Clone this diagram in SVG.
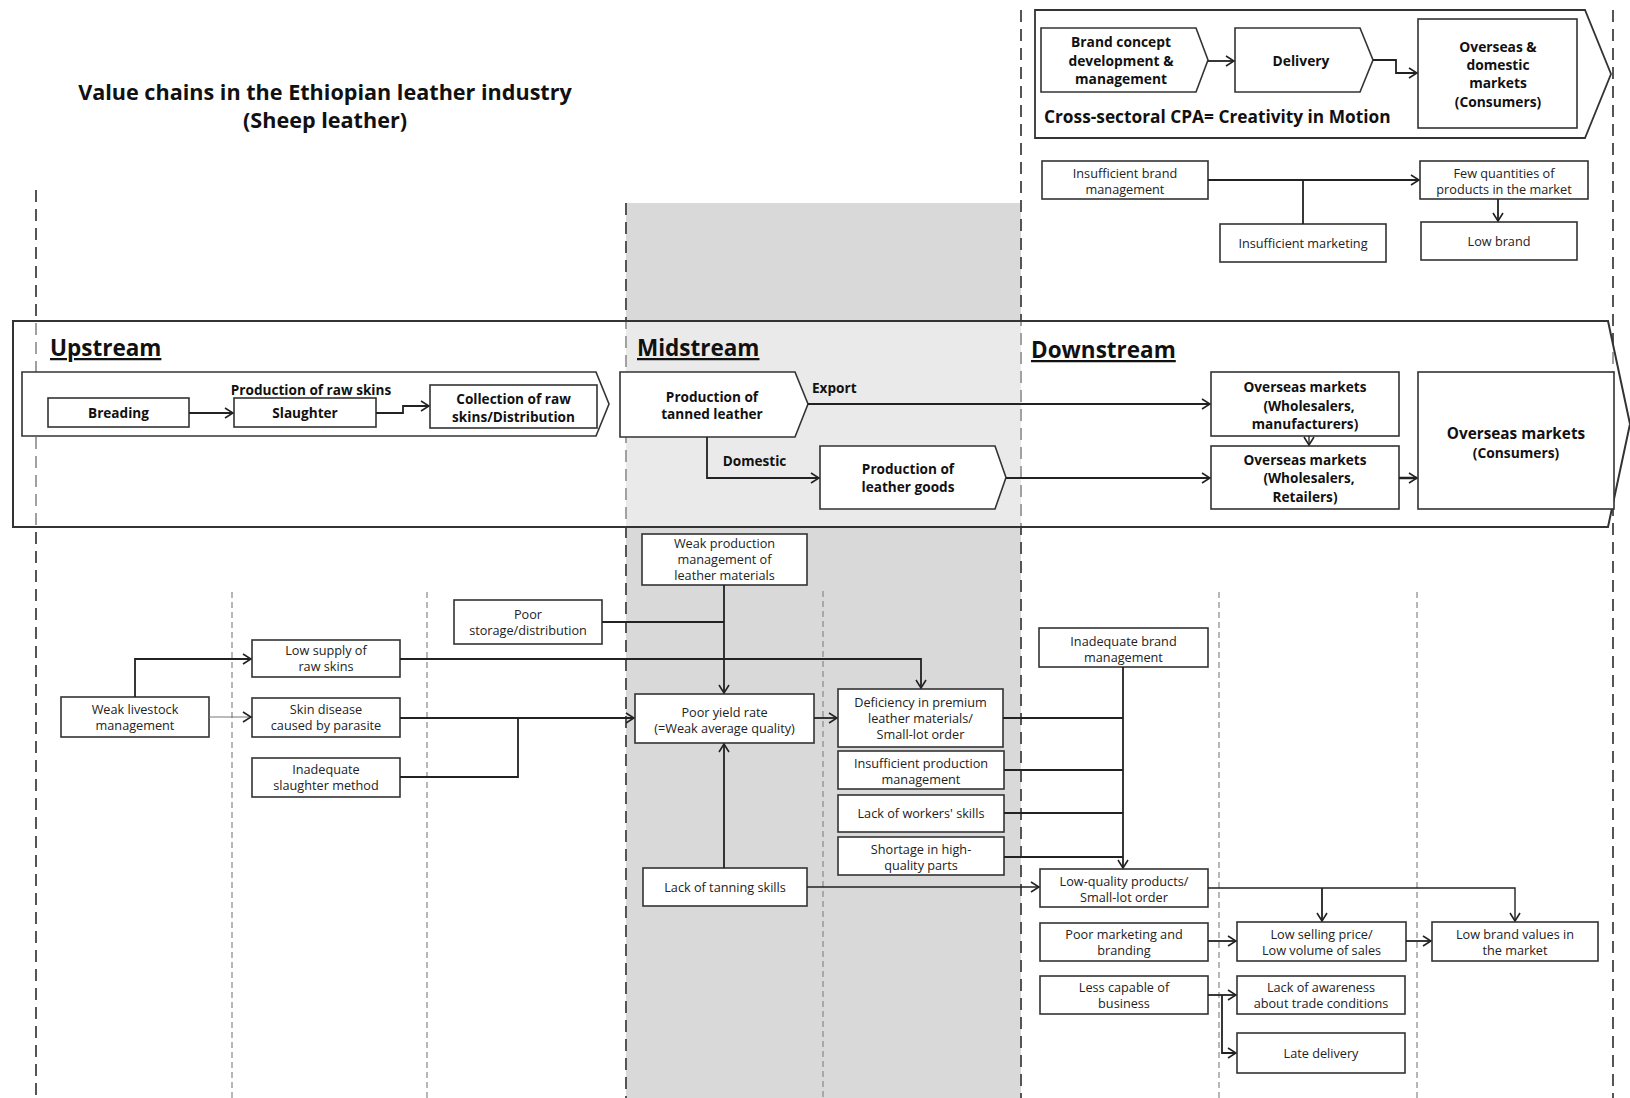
<svg xmlns="http://www.w3.org/2000/svg" width="1630" height="1098" viewBox="0 0 1630 1098">
<defs>
<style>
.bx{fill:#fff;stroke:#333;stroke-width:1.6}
.t{font-family:"Open Sans","Liberation Sans",sans-serif;font-size:12.7px;fill:#222;text-anchor:middle}
.tb{font-family:"Open Sans","Liberation Sans",sans-serif;font-size:13.6px;font-weight:bold;fill:#111;text-anchor:middle}
.sec{font-family:"Open Sans","Liberation Sans",sans-serif;font-size:22.5px;font-weight:bold;fill:#111;text-decoration:underline}
.c{fill:none;stroke:#222;stroke-width:1.8}
.dk{stroke:#555;stroke-width:2;stroke-dasharray:12 7;fill:none}
.dt{stroke:#888;stroke-width:1.2;stroke-dasharray:6 4;fill:none}
</style>
<marker id="a" viewBox="0 0 10 12" markerWidth="10" markerHeight="12" refX="9" refY="6" orient="auto" markerUnits="userSpaceOnUse">
<path d="M1,1 L9,6 L1,11" fill="none" stroke="#222" stroke-width="1.6"/>
</marker>
</defs>
<rect width="1630" height="1098" fill="#fff"/>
<rect x="626" y="203" width="395" height="895" fill="#d9d9d9"/>
<g id="gridlines">
<line class="dk" x1="36" y1="190" x2="36" y2="1098"/>
<line class="dk" x1="626" y1="203" x2="626" y2="1098"/>
<line class="dk" x1="1021" y1="10" x2="1021" y2="1098"/>
<line class="dk" x1="1613" y1="10" x2="1613" y2="1098"/>
<line class="dt" x1="232" y1="592" x2="232" y2="1098"/>
<line class="dt" x1="427" y1="592" x2="427" y2="1098"/>
<line class="dt" x1="823" y1="591" x2="823" y2="1098"/>
<line class="dt" x1="1219" y1="592" x2="1219" y2="1098"/>
<line class="dt" x1="1417" y1="592" x2="1417" y2="1098"/>
</g>
<g id="title">
<text class="tb" x="325" y="100" style="font-size:21.6px">Value chains in the Ethiopian leather industry</text>
<text class="tb" x="325" y="128" style="font-size:21.6px">(Sheep leather)</text>
</g>
<g id="band">
<polygon points="13,321 1608,321 1630,424 1608,527 13,527" fill="#fff" fill-opacity="0.45" stroke="#333" stroke-width="2"/>
<text class="sec" x="50" y="356">Upstream</text>
<text class="sec" x="637" y="356">Midstream</text>
<text class="sec" x="1031" y="358">Downstream</text>
</g>
<g id="upstream-chain">
<polygon class="bx" points="22,372 596,372 609,404 596,436 22,436"/>
</g>
<g id="breading"><rect class="bx" x="48" y="398" width="141" height="29"/><text class="tb" x="118.5" y="418">Breading</text></g>
<g id="slaughter"><text class="tb" x="311" y="395">Production of raw skins</text><rect class="bx" x="234" y="398" width="142" height="29"/><text class="tb" x="305" y="418">Slaughter</text></g>
<g id="collection"><rect class="bx" x="430" y="385" width="167" height="43"/><text class="tb" x="513.5" y="404">Collection of raw</text><text class="tb" x="513.5" y="422">skins/Distribution</text></g>
<g id="tanned"><polygon class="bx" points="620,372 795,372 808,404 795,437 620,437"/><text class="tb" x="712" y="402">Production of</text><text class="tb" x="712" y="419">tanned leather</text></g>
<g id="leathergoods"><polygon class="bx" points="820,446 995,446 1006,477.5 995,509 820,509"/><text class="tb" x="908" y="474">Production of</text><text class="tb" x="908" y="492">leather goods</text></g>
<g id="os1"><rect class="bx" x="1211" y="372" width="188" height="64"/><text class="tb" x="1305" y="392">Overseas markets</text><text class="tb" x="1309" y="411">(Wholesalers,</text><text class="tb" x="1305" y="429">manufacturers)</text></g>
<g id="os2"><rect class="bx" x="1211" y="446" width="188" height="63"/><text class="tb" x="1305" y="465">Overseas markets</text><text class="tb" x="1309" y="483">(Wholesalers,</text><text class="tb" x="1305" y="502">Retailers)</text></g>
<g id="os3"><rect class="bx" x="1418" y="372" width="196" height="137"/><text class="tb" x="1516" y="439" style="font-size:15.3px">Overseas markets</text><text class="tb" x="1516" y="458" style="font-size:13.8px">(Consumers)</text></g>
<g id="labels"><text class="tb" x="812" y="393" style="text-anchor:start">Export</text><text class="tb" x="754.5" y="466">Domestic</text></g>
<g id="cpa">
<polygon points="1035,10 1585,10 1611,74 1585,138 1035,138" fill="#fff" stroke="#333" stroke-width="1.8"/>
<text class="tb" x="1044" y="123" style="font-size:17.3px;text-anchor:start">Cross-sectoral CPA= Creativity in Motion</text>
</g>
<g id="brandconcept"><polygon class="bx" points="1041,28 1196,28 1208,60 1196,92 1041,92"/><text class="tb" x="1121" y="47" style="font-size:13.8px">Brand concept</text><text class="tb" x="1121" y="66" style="font-size:13.8px">development &amp;</text><text class="tb" x="1121" y="84" style="font-size:13.8px">management</text></g>
<g id="delivery"><polygon class="bx" points="1235,28 1360,28 1373,60 1360,92 1235,92"/><text class="tb" x="1301" y="66" style="font-size:13.8px">Delivery</text></g>
<g id="markets"><rect class="bx" x="1418" y="19" width="159" height="109"/><text class="tb" x="1498" y="52" style="font-size:13.8px">Overseas &amp;</text><text class="tb" x="1498" y="70" style="font-size:13.8px">domestic</text><text class="tb" x="1498" y="88" style="font-size:13.8px">markets</text><text class="tb" x="1498" y="107" style="font-size:13.8px">(Consumers)</text></g>
<g id="insuffbrand"><rect class="bx" x="1042" y="161" width="166" height="38"/><text class="t" x="1125" y="177.5">Insufficient brand</text><text class="t" x="1125" y="193.5">management</text></g>
<g id="fewquant"><rect class="bx" x="1420" y="161" width="168" height="38"/><text class="t" x="1504" y="177.5">Few quantities of</text><text class="t" x="1504" y="193.5">products in the market</text></g>
<g id="insuffmkt"><rect class="bx" x="1220" y="224" width="166" height="38"/><text class="t" x="1303" y="247.5">Insufficient marketing</text></g>
<g id="lowbrand"><rect class="bx" x="1421" y="222" width="156" height="38"/><text class="t" x="1499" y="245.5">Low brand</text></g>
<g id="weaklivestock"><rect class="bx" x="61" y="697" width="148" height="40"/><text class="t" x="135" y="713.5">Weak livestock</text><text class="t" x="135" y="729.5">management</text></g>
<g id="lowsupply"><rect class="bx" x="252" y="640" width="148" height="37"/><text class="t" x="326" y="655">Low supply of</text><text class="t" x="326" y="671">raw skins</text></g>
<g id="skindisease"><rect class="bx" x="252" y="698" width="148" height="39"/><text class="t" x="326" y="714">Skin disease</text><text class="t" x="326" y="730">caused by parasite</text></g>
<g id="inadslaughter"><rect class="bx" x="252" y="758" width="148" height="39"/><text class="t" x="326" y="774">Inadequate</text><text class="t" x="326" y="790">slaughter method</text></g>
<g id="poorstorage"><rect class="bx" x="454" y="600" width="148" height="44"/><text class="t" x="528" y="619">Poor</text><text class="t" x="528" y="635">storage/distribution</text></g>
<g id="weakprod"><rect class="bx" x="642" y="534" width="165" height="51"/><text class="t" x="724.5" y="548">Weak production</text><text class="t" x="724.5" y="564">management of</text><text class="t" x="724.5" y="580">leather materials</text></g>
<g id="pooryield"><rect class="bx" x="635" y="694" width="179" height="49"/><text class="t" x="724.5" y="717">Poor yield rate</text><text class="t" x="724.5" y="733">(=Weak average quality)</text></g>
<g id="deficiency"><rect class="bx" x="838" y="689" width="165" height="58"/><text class="t" x="920.5" y="706.5">Deficiency in premium</text><text class="t" x="920.5" y="722.5">leather materials/</text><text class="t" x="920.5" y="738.5">Small-lot order</text></g>
<g id="insuffprod"><rect class="bx" x="838" y="751" width="166" height="38"/><text class="t" x="921" y="767.5">Insufficient production</text><text class="t" x="921" y="783.5">management</text></g>
<g id="lackworkers"><rect class="bx" x="838" y="795" width="166" height="37"/><text class="t" x="921" y="818">Lack of workers' skills</text></g>
<g id="shortage"><rect class="bx" x="838" y="837" width="166" height="38"/><text class="t" x="921" y="853.5">Shortage in high-</text><text class="t" x="921" y="869.5">quality parts</text></g>
<g id="lacktanning"><rect class="bx" x="643" y="868" width="164" height="38"/><text class="t" x="725" y="891.5">Lack of tanning skills</text></g>
<g id="inadbrand"><rect class="bx" x="1039" y="628" width="169" height="39"/><text class="t" x="1123.5" y="645.5">Inadequate brand</text><text class="t" x="1123.5" y="661.5">management</text></g>
<g id="lowquality"><rect class="bx" x="1040" y="869" width="168" height="38"/><text class="t" x="1124" y="885.5">Low-quality products/</text><text class="t" x="1124" y="901.5">Small-lot order</text></g>
<g id="poormkt"><rect class="bx" x="1040" y="923" width="168" height="38"/><text class="t" x="1124" y="938.5">Poor marketing and</text><text class="t" x="1124" y="954.5">branding</text></g>
<g id="lowselling"><rect class="bx" x="1237" y="922" width="169" height="39"/><text class="t" x="1321.5" y="938.5">Low selling price/</text><text class="t" x="1321.5" y="954.5">Low volume of sales</text></g>
<g id="lowbrandvalues"><rect class="bx" x="1432" y="922" width="166" height="39"/><text class="t" x="1515" y="938.5">Low brand values in</text><text class="t" x="1515" y="954.5">the market</text></g>
<g id="lesscapable"><rect class="bx" x="1040" y="976" width="168" height="38"/><text class="t" x="1124" y="991.5">Less capable of</text><text class="t" x="1124" y="1007.5">business</text></g>
<g id="awareness"><rect class="bx" x="1237" y="976" width="168" height="38"/><text class="t" x="1321" y="991.5">Lack of awareness</text><text class="t" x="1321" y="1007.5">about trade conditions</text></g>
<g id="latedelivery"><rect class="bx" x="1237" y="1033" width="168" height="40"/><text class="t" x="1321" y="1057.5">Late delivery</text></g>
<g id="connectors">
<path class="c" d="M189,413 H233" marker-end="url(#a)"/>
<path class="c" d="M376,413 H403 V406 H429" marker-end="url(#a)"/>
<path class="c" d="M808,404 H1210" marker-end="url(#a)"/>
<path class="c" d="M707,437 V478 H819" marker-end="url(#a)"/>
<path class="c" d="M1006,478 H1210" marker-end="url(#a)"/>
<path class="c" d="M1309,436 V445" marker-end="url(#a)" style="stroke-width:1.3"/>
<path class="c" d="M1399,478 H1417" marker-end="url(#a)" style="stroke-width:2.5"/>
<path class="c" d="M1208,61 H1234" marker-end="url(#a)"/>
<path class="c" d="M1373,60 H1396 V73 H1417" marker-end="url(#a)"/>
<path class="c" d="M1208,180 H1419" marker-end="url(#a)"/>
<path class="c" d="M1303,224 V180"/>
<path class="c" d="M1498,199 V221" marker-end="url(#a)"/>
<path class="c" d="M135,697 V659 H251" marker-end="url(#a)"/>
<path class="c" d="M209,717 H251" marker-end="url(#a)" style="stroke:#777;stroke-width:1.2"/>
<path class="c" d="M400,718 H634" marker-end="url(#a)"/>
<path class="c" d="M400,777 H518 V718"/>
<path class="c" d="M602,622 H724"/>
<path class="c" d="M724,585 V693" marker-end="url(#a)"/>
<path class="c" d="M400,659 H921 V688" marker-end="url(#a)"/>
<path class="c" d="M814,718 H837" marker-end="url(#a)"/>
<path class="c" d="M724,868 V744" marker-end="url(#a)"/>
<path class="c" d="M807,887 H1039" marker-end="url(#a)" style="stroke-width:1.4"/>
<path class="c" d="M1003,718 H1123"/>
<path class="c" d="M1004,770 H1123"/>
<path class="c" d="M1004,813 H1123"/>
<path class="c" d="M1004,857 H1123"/>
<path class="c" d="M1123,667 V868" marker-end="url(#a)"/>
<path class="c" d="M1208,888 H1515 V921" marker-end="url(#a)" style="stroke-width:1.4"/>
<path class="c" d="M1322,888 V921" marker-end="url(#a)"/>
<path class="c" d="M1208,941 H1236" marker-end="url(#a)"/>
<path class="c" d="M1406,941 H1431" marker-end="url(#a)"/>
<path class="c" d="M1208,995 H1236" marker-end="url(#a)"/>
<path class="c" d="M1222,995 V1053 H1236" marker-end="url(#a)"/>
</g>
</svg>
